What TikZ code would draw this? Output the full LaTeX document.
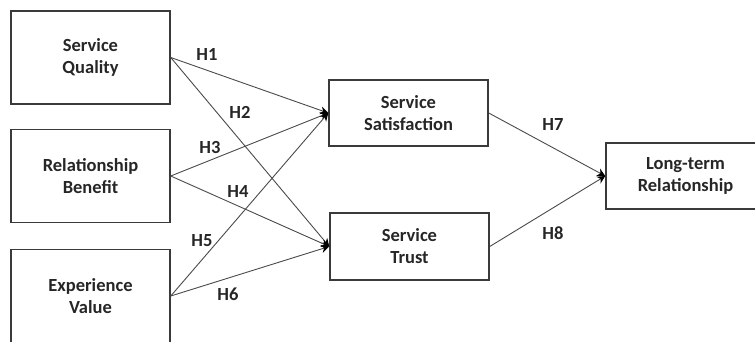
\documentclass[tikz,border=0pt]{standalone}
\usepackage{fontspec}
\setmainfont{Carlito}
\usetikzlibrary{arrows.meta}
\definecolor{boxgray}{HTML}{3A3A3A}
\definecolor{linegray}{HTML}{4A4A4A}
\definecolor{textgray}{HTML}{262626}
\begin{document}
\begin{tikzpicture}[x=1pt,y=-1pt,
  box/.style={draw=boxgray, line width=1.5pt, minimum width=159pt, minimum height=93pt,
    align=center, font=\fontsize{18.5}{22}\selectfont\bfseries, text=textgray, inner sep=0pt},
  link/.style={draw=linegray, line width=0.9pt, -{Stealth[length=8pt,width=8pt,fill=black,color=black]}},
  lab/.style={font=\fontsize{18.5}{22}\selectfont\bfseries, text=textgray, inner sep=0pt}]
\useasboundingbox (0,0) rectangle (755,341);
\clip (0,0) rectangle (755,341);
\node[box] (sq) at (90.5,57.5) {Service\\Quality};
\node[box] (rb) at (90.5,176) {Relationship\\Benefit};
\node[box] (ev) at (90.5,296) {Experience\\Value};
\node[box, minimum height=66pt] (ss) at (408.5,113) {Service\\Satisfaction};
\node[box, minimum height=67pt] (st) at (409.5,246.5) {Service\\Trust};
\node[box, minimum height=66pt] (lt) at (685.5,176) {Long-term\\Relationship};
\draw[link] (sq.east) -- (ss.west);
\draw[link] (sq.east) -- (st.west);
\draw[link] (rb.east) -- (ss.west);
\draw[link] (rb.east) -- (st.west);
\draw[link] (ev.east) -- (ss.west);
\draw[link] (ev.east) -- (st.west);
\draw[link] (ss.east) -- (lt.west);
\draw[link] (st.east) -- (lt.west);
\node[lab] (h1) at (207,54) {H1};
\node[lab] (h2) at (240,112) {H2};
\node[lab] (h3) at (210,147) {H3};
\node[lab] (h4) at (238,191) {H4};
\node[lab] (h5) at (202,241) {H5};
\node[lab] (h6) at (228,294) {H6};
\node[lab] (h7) at (553,124) {H7};
\node[lab] (h8) at (553,233) {H8};
\end{tikzpicture}
\end{document}
